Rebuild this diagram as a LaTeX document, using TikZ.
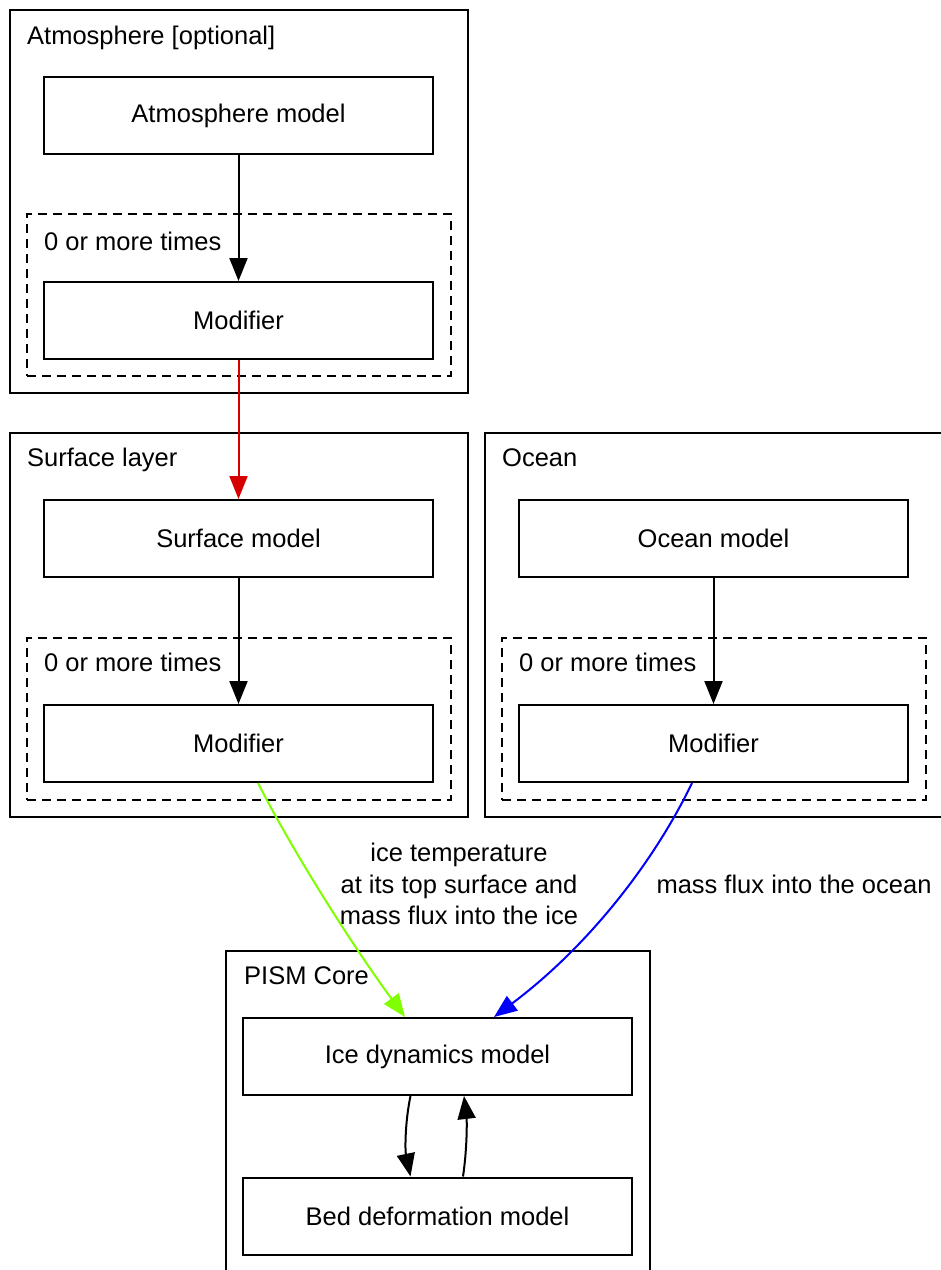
\documentclass[tikz,border=0pt]{standalone}
\usepackage{fontspec}
\setmainfont{Liberation Sans}
\usetikzlibrary{arrows.meta}
\definecolor{edgered}{RGB}{215,0,0}
\definecolor{edgegreen}{RGB}{127,255,0}
\definecolor{edgeblue}{RGB}{0,0,255}
\begin{document}
\begin{tikzpicture}[x=1pt,y=-1pt,
  txt/.style={font=\fontsize{25.5}{31.5}\selectfont},
  model/.style={draw, line width=2pt, minimum width=389pt, minimum height=77pt, inner sep=0pt, txt},
  cluster/.style={draw, line width=1.8pt, inner sep=0pt},
  dcluster/.style={draw, dash pattern=on 9pt off 6pt, line width=1.8pt, inner sep=0pt},
  clabel/.style={anchor=base west, inner sep=0pt, txt},
  elabel/.style={inner sep=0pt, align=center, txt},
  arr/.style={-{Triangle[length=23pt,width=18pt]}, line width=2pt}]
\useasboundingbox (0,0) rectangle (941,1270);
\clip (0,0) rectangle (941,1270);
\fill[white] (0,0) rectangle (941,1270);

% clusters
\node[cluster, minimum width=458pt, minimum height=383pt] (atmC) at (239,201.5) {};
\node[dcluster, minimum width=424pt, minimum height=162pt] (atmD) at (239,295) {};
\node[cluster, minimum width=458pt, minimum height=384pt] (surfC) at (239,625) {};
\node[dcluster, minimum width=424pt, minimum height=162pt] (surfD) at (239,719) {};
\node[cluster, minimum width=458pt, minimum height=384pt] (oceanC) at (714,625) {};
\node[dcluster, minimum width=424pt, minimum height=162pt] (oceanD) at (714,719) {};
\node[cluster, minimum width=424pt, minimum height=360pt] (pismC) at (438,1131) {};

% cluster labels
\node[clabel] (atmL) at (27,44) {Atmosphere [optional]};
\node[clabel] (atmDL) at (44,250) {0 or more times};
\node[clabel] (surfL) at (27,466) {Surface layer};
\node[clabel] (surfDL) at (44,671) {0 or more times};
\node[clabel] (oceanL) at (502,466) {Ocean};
\node[clabel] (oceanDL) at (519,671) {0 or more times};
\node[clabel] (pismL) at (244,984) {PISM Core};

% model nodes
\node[model] (atmM) at (238.5,115.5) {Atmosphere model};
\node[model] (atmMod) at (238.5,320.5) {Modifier};
\node[model] (surfM) at (238.5,538.5) {Surface model};
\node[model] (surfMod) at (238.5,743.5) {Modifier};
\node[model] (oceanM) at (713.5,538.5) {Ocean model};
\node[model] (oceanMod) at (713.5,743.5) {Modifier};
\node[model] (ice) at (437.5,1056.5) {Ice dynamics model};
\node[model] (bed) at (437.5,1216) {Bed deformation model};

% edges
\draw[arr] (atmM) -- (atmMod);
\draw[arr, edgered] (atmMod) -- (surfM);
\draw[arr] (surfM) -- (surfMod);
\draw[arr] (oceanM) -- (oceanMod);
\draw[arr, edgegreen] ([xshift=19.5pt]surfMod.south) .. controls (292,850) and (352,945) .. ([xshift=-32.5pt]ice.north);
\draw[arr, edgeblue] ([xshift=-21.5pt]oceanMod.south) .. controls (655,860) and (590,945) .. ([xshift=56.5pt]ice.north);
\draw[arr] ([xshift=-27pt]ice.south) .. controls (405,1122) and (405,1150) .. ([xshift=-27pt]bed.north);
\draw[arr] ([xshift=25.5pt]bed.north) .. controls (467,1150) and (467,1122) .. ([xshift=26.5pt]ice.south);

% edge labels
\node[elabel] (lab1) at (459,884) {ice temperature\\at its top surface and\\mass flux into the ice};
\node[elabel] (lab2) at (794,884) {mass flux into the ocean};
\end{tikzpicture}
\end{document}
